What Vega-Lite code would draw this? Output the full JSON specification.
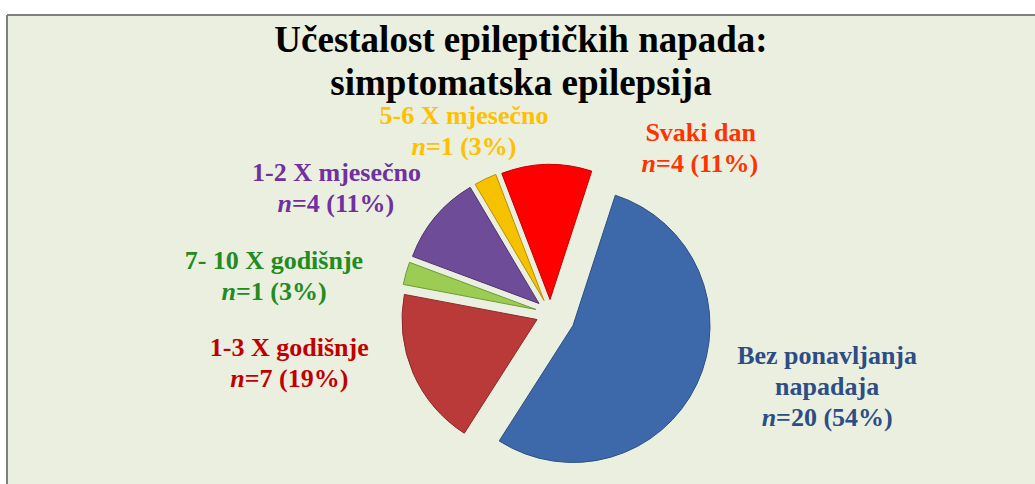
{
  "$schema": "https://vega.github.io/schema/vega-lite/v6.json",
  "width": 1028,
  "height": 469,
  "autosize": "none",
  "padding": {"left": 7, "top": 15, "right": 0, "bottom": 0},
  "background": "white",
  "view": {"fill": "#EBEFDF", "stroke": "#7F7F7F", "strokeWidth": 2, "strokeDash": [1028, 1497, 469, 0]},
  "layer": [
    {
      "data": {"values": [{"naslov": "Učestalost epileptičkih napada:\nsimptomatska epilepsija"}]},
      "mark": {"type": "text", "dy": -198, "font": "Liberation Serif", "fontSize": 37, "fontWeight": "bold", "lineHeight": 43, "lineBreak": "\n", "align": "center", "baseline": "alphabetic", "color": "black"},
      "encoding": {"text": {"field": "naslov"}}
    },
    {
      "data": {
        "values": [
          {"kat": "Bez ponavljanja napadaja", "n": 20, "ord": 1, "label": "Bez ponavljanja\nnapadaja", "iznos": "=20 (54%)"},
          {"kat": "1-3 X godišnje", "n": 7, "ord": 2, "label": "1-3 X godišnje", "iznos": "=7 (19%)"},
          {"kat": "7- 10 X godišnje", "n": 1, "ord": 3, "label": "7- 10 X godišnje", "iznos": "=1 (3%)"},
          {"kat": "1-2 X mjesečno", "n": 4, "ord": 4, "label": "1-2 X mjesečno", "iznos": "=4 (11%)"},
          {"kat": "5-6 X mjesečno", "n": 1, "ord": 5, "label": "5-6 X mjesečno", "iznos": "=1 (3%)"},
          {"kat": "Svaki dan", "n": 4, "ord": 6, "label": "Svaki dan", "iznos": "=4 (11%)"}
        ]
      },
      "encoding": {
        "theta": {"field": "n", "type": "quantitative", "stack": true, "scale": {"type": "linear", "domain": [0, 37], "range": [0.3142, 6.5973]}},
        "order": {"field": "ord", "type": "quantitative"}
      },
      "layer": [
        {"mark": {"type": "arc", "outerRadius": 137, "xOffset": 52, "yOffset": 76, "fill": "#3D69AB", "stroke": "#2B4F85", "strokeWidth": 1},
         "encoding": {"opacity": {"condition": {"test": "datum.ord === 1", "value": 1}, "value": 0}}},
        {"mark": {"type": "arc", "outerRadius": 135, "xOffset": 16, "yOffset": 70, "fill": "#B93A38", "stroke": "#8A2A28", "strokeWidth": 1},
         "encoding": {"opacity": {"condition": {"test": "datum.ord === 2", "value": 1}, "value": 0}}},
        {"mark": {"type": "arc", "outerRadius": 135, "xOffset": 15, "yOffset": 60, "fill": "#9DCC55", "stroke": "#6F9A35", "strokeWidth": 1},
         "encoding": {"opacity": {"condition": {"test": "datum.ord === 3", "value": 1}, "value": 0}}},
        {"mark": {"type": "arc", "outerRadius": 135, "xOffset": 18, "yOffset": 54, "fill": "#6F4C98", "stroke": "#4E3470", "strokeWidth": 1},
         "encoding": {"opacity": {"condition": {"test": "datum.ord === 4", "value": 1}, "value": 0}}},
        {"mark": {"type": "arc", "outerRadius": 135, "xOffset": 23, "yOffset": 51, "fill": "#F6C200", "stroke": "#B88F00", "strokeWidth": 1},
         "encoding": {"opacity": {"condition": {"test": "datum.ord === 5", "value": 1}, "value": 0}}},
        {"mark": {"type": "arc", "outerRadius": 135, "xOffset": 29, "yOffset": 50, "fill": "#FF0000", "stroke": "#C00000", "strokeWidth": 1},
         "encoding": {"opacity": {"condition": {"test": "datum.ord === 6", "value": 1}, "value": 0}}},

        {"mark": {"type": "text", "radius": 270, "dx": 62, "dy": -1, "font": "Liberation Serif", "fontSize": 26, "fontWeight": "bold", "lineHeight": 31, "lineBreak": "\n", "align": "center", "baseline": "alphabetic", "color": "#2C4D85"},
         "encoding": {"text": {"condition": {"test": "datum.ord === 1", "field": "label"}, "value": ""}}},
        {"mark": {"type": "text", "radius": 270, "dx": 11, "dy": 61, "font": "Liberation Serif", "fontSize": 26, "fontWeight": "bold", "fontStyle": "italic", "align": "right", "baseline": "alphabetic", "color": "#2C4D85"},
         "encoding": {"text": {"condition": {"test": "datum.ord === 1", "value": "n"}, "value": ""}}},
        {"mark": {"type": "text", "radius": 270, "dx": 11, "dy": 61, "font": "Liberation Serif", "fontSize": 26, "fontWeight": "bold", "align": "left", "baseline": "alphabetic", "color": "#2C4D85"},
         "encoding": {"text": {"condition": {"test": "datum.ord === 1", "field": "iznos"}, "value": ""}}},

        {"mark": {"type": "text", "radius": 260, "dx": 7, "dy": 3, "font": "Liberation Serif", "fontSize": 26, "fontWeight": "bold", "align": "center", "baseline": "alphabetic", "color": "#C00000"},
         "encoding": {"text": {"condition": {"test": "datum.ord === 2", "field": "label"}, "value": ""}}},
        {"mark": {"type": "text", "radius": 260, "dx": -37.6, "dy": 34, "font": "Liberation Serif", "fontSize": 26, "fontWeight": "bold", "fontStyle": "italic", "align": "right", "baseline": "alphabetic", "color": "#C00000"},
         "encoding": {"text": {"condition": {"test": "datum.ord === 2", "value": "n"}, "value": ""}}},
        {"mark": {"type": "text", "radius": 260, "dx": -37.6, "dy": 34, "font": "Liberation Serif", "fontSize": 26, "fontWeight": "bold", "align": "left", "baseline": "alphabetic", "color": "#C00000"},
         "encoding": {"text": {"condition": {"test": "datum.ord === 2", "field": "iznos"}, "value": ""}}},

        {"mark": {"type": "text", "radius": 270, "dx": 13, "dy": 92, "font": "Liberation Serif", "fontSize": 26, "fontWeight": "bold", "align": "center", "baseline": "alphabetic", "color": "#228B22"},
         "encoding": {"text": {"condition": {"test": "datum.ord === 3", "field": "label"}, "value": ""}}},
        {"mark": {"type": "text", "radius": 270, "dx": -25, "dy": 123, "font": "Liberation Serif", "fontSize": 26, "fontWeight": "bold", "fontStyle": "italic", "align": "right", "baseline": "alphabetic", "color": "#228B22"},
         "encoding": {"text": {"condition": {"test": "datum.ord === 3", "value": "n"}, "value": ""}}},
        {"mark": {"type": "text", "radius": 270, "dx": -25, "dy": 123, "font": "Liberation Serif", "fontSize": 26, "fontWeight": "bold", "align": "left", "baseline": "alphabetic", "color": "#228B22"},
         "encoding": {"text": {"condition": {"test": "datum.ord === 3", "field": "iznos"}, "value": ""}}},

        {"mark": {"type": "text", "radius": 230, "dx": -8, "dy": 79, "font": "Liberation Serif", "fontSize": 26, "fontWeight": "bold", "align": "center", "baseline": "alphabetic", "color": "#7030A0"},
         "encoding": {"text": {"condition": {"test": "datum.ord === 4", "field": "label"}, "value": ""}}},
        {"mark": {"type": "text", "radius": 230, "dx": -52.6, "dy": 110, "font": "Liberation Serif", "fontSize": 26, "fontWeight": "bold", "fontStyle": "italic", "align": "right", "baseline": "alphabetic", "color": "#7030A0"},
         "encoding": {"text": {"condition": {"test": "datum.ord === 4", "value": "n"}, "value": ""}}},
        {"mark": {"type": "text", "radius": 230, "dx": -52.6, "dy": 110, "font": "Liberation Serif", "fontSize": 26, "fontWeight": "bold", "align": "left", "baseline": "alphabetic", "color": "#7030A0"},
         "encoding": {"text": {"condition": {"test": "datum.ord === 4", "field": "iznos"}, "value": ""}}},

        {"mark": {"type": "text", "radius": 200, "dx": 30, "dy": 55, "font": "Liberation Serif", "fontSize": 26, "fontWeight": "bold", "align": "center", "baseline": "alphabetic", "color": "#FFC000"},
         "encoding": {"text": {"condition": {"test": "datum.ord === 5", "field": "label"}, "value": ""}}},
        {"mark": {"type": "text", "radius": 200, "dx": -8.1, "dy": 86, "font": "Liberation Serif", "fontSize": 26, "fontWeight": "bold", "fontStyle": "italic", "align": "right", "baseline": "alphabetic", "color": "#FFC000"},
         "encoding": {"text": {"condition": {"test": "datum.ord === 5", "value": "n"}, "value": ""}}},
        {"mark": {"type": "text", "radius": 200, "dx": -8.1, "dy": 86, "font": "Liberation Serif", "fontSize": 26, "fontWeight": "bold", "align": "left", "baseline": "alphabetic", "color": "#FFC000"},
         "encoding": {"text": {"condition": {"test": "datum.ord === 5", "field": "iznos"}, "value": ""}}},

        {"mark": {"type": "text", "radius": 170, "dx": 184, "dy": 61, "font": "Liberation Serif", "fontSize": 26, "fontWeight": "bold", "align": "center", "baseline": "alphabetic", "color": "#FF3300"},
         "encoding": {"text": {"condition": {"test": "datum.ord === 6", "field": "label"}, "value": ""}}},
        {"mark": {"type": "text", "radius": 170, "dx": 139.4, "dy": 92, "font": "Liberation Serif", "fontSize": 26, "fontWeight": "bold", "fontStyle": "italic", "align": "right", "baseline": "alphabetic", "color": "#FF3300"},
         "encoding": {"text": {"condition": {"test": "datum.ord === 6", "value": "n"}, "value": ""}}},
        {"mark": {"type": "text", "radius": 170, "dx": 139.4, "dy": 92, "font": "Liberation Serif", "fontSize": 26, "fontWeight": "bold", "align": "left", "baseline": "alphabetic", "color": "#FF3300"},
         "encoding": {"text": {"condition": {"test": "datum.ord === 6", "field": "iznos"}, "value": ""}}}
      ]
    }
  ]
}
